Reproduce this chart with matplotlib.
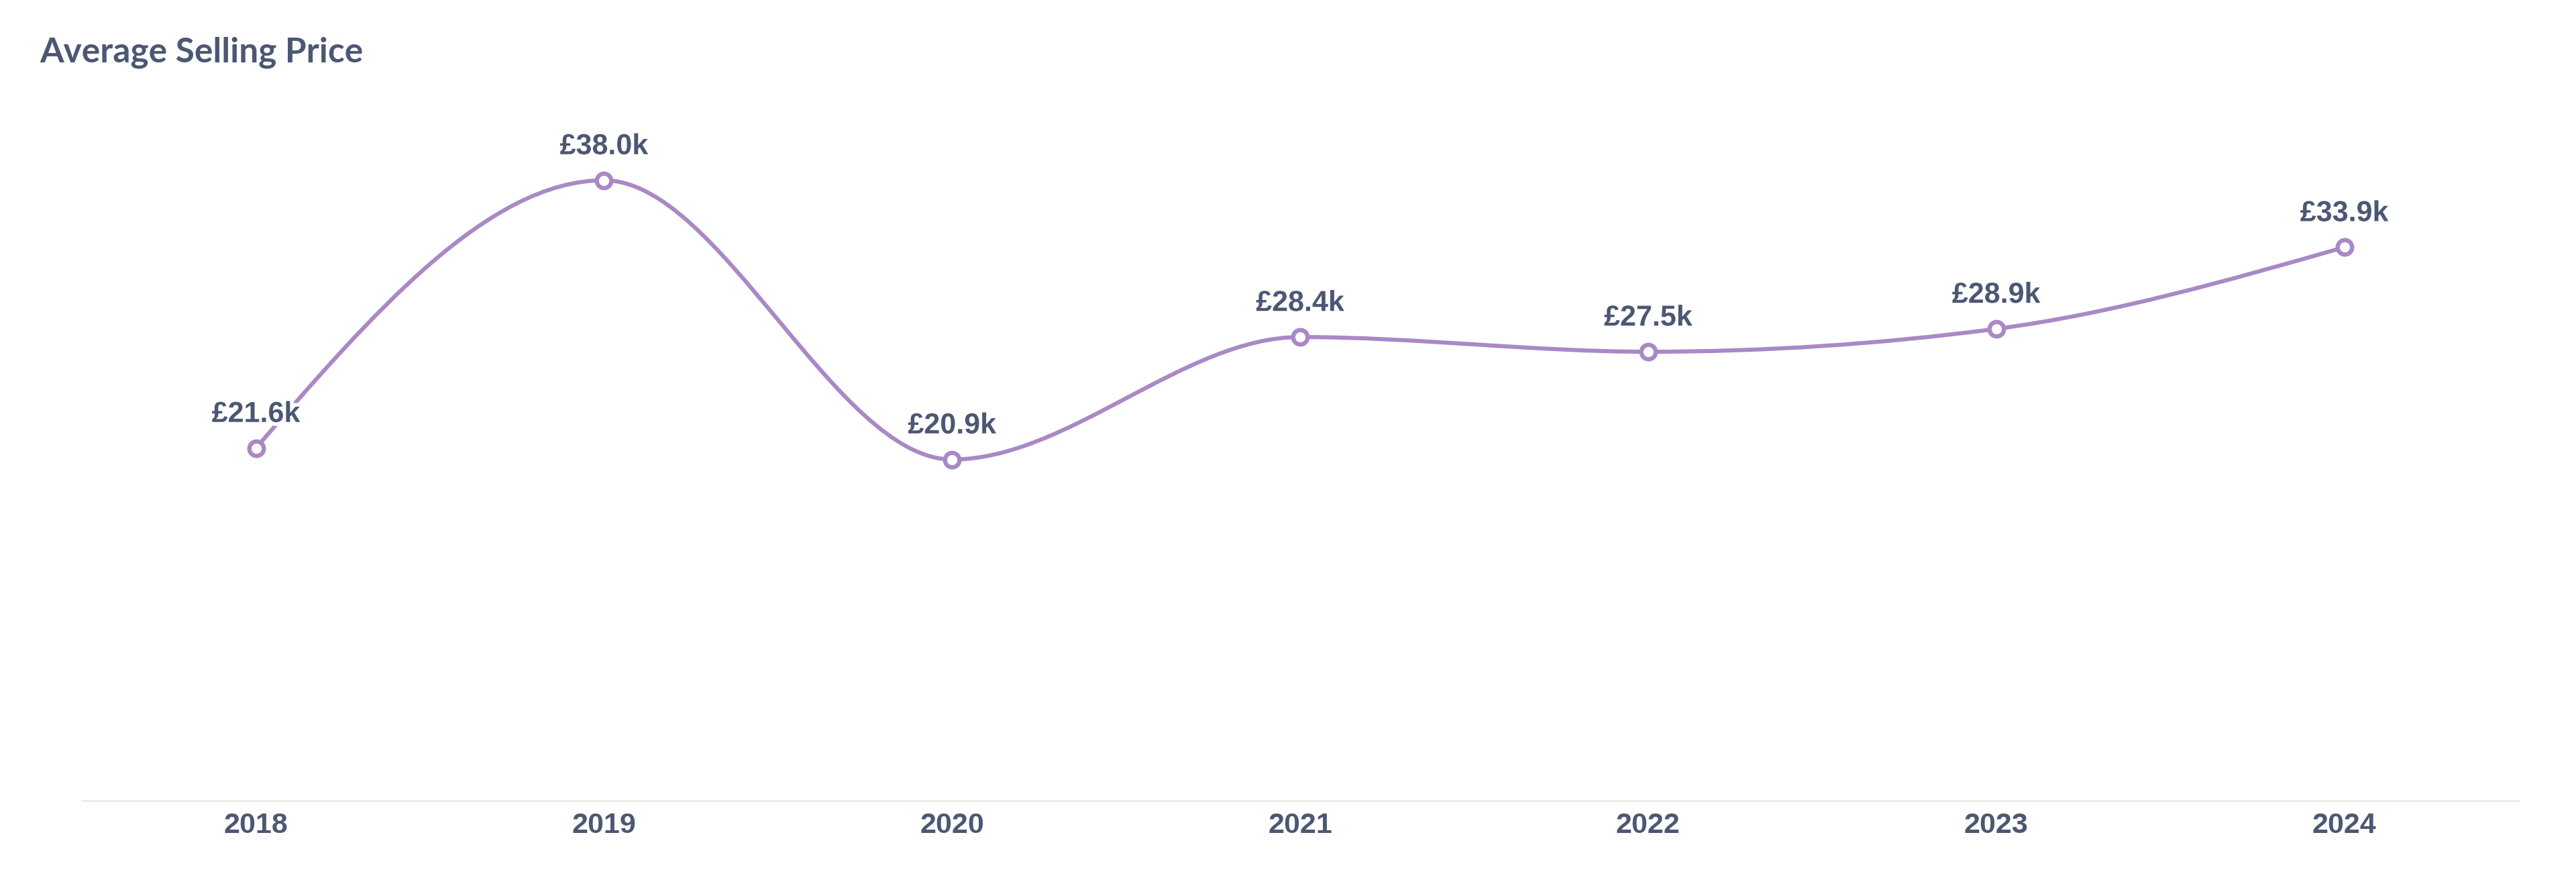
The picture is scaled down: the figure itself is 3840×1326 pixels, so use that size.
import numpy as np
import matplotlib
matplotlib.use("Agg")
import matplotlib.pyplot as plt
import matplotlib.patheffects as pe
from matplotlib.path import Path
from matplotlib.patches import PathPatch

# data
years = ["2018", "2019", "2020", "2021", "2022", "2023", "2024"]
avg_price_k = [21.6, 38.0, 20.9, 28.4, 27.5, 28.9, 33.9]
point_labels = ["£21.6k", "£38.0k", "£20.9k", "£28.4k", "£27.5k", "£28.9k", "£33.9k"]

TEXT = "#4C5773"
LINE = "#A989C5"
AXIS = "#EDEDED"


def monotone_path(x, y):
    # cubic bezier segments like d3.curveMonotoneX
    x = np.asarray(x, float)
    y = np.asarray(y, float)
    n = len(x)
    h = np.diff(x)
    s = np.diff(y) / h
    t = np.zeros(n)
    for i in range(1, n - 1):
        p = (s[i - 1] * h[i] + s[i] * h[i - 1]) / (h[i - 1] + h[i])
        t[i] = (np.sign(s[i - 1]) + np.sign(s[i])) * min(abs(s[i - 1]), abs(s[i]), 0.5 * abs(p))
    t[0] = (3 * s[0] - t[1]) / 2
    t[-1] = (3 * s[-1] - t[-2]) / 2
    verts = [(x[0], y[0])]
    codes = [Path.MOVETO]
    for i in range(n - 1):
        dx = h[i] / 3
        verts += [(x[i] + dx, y[i] + dx * t[i]),
                  (x[i + 1] - dx, y[i + 1] - dx * t[i + 1]),
                  (x[i + 1], y[i + 1])]
        codes += [Path.CURVE4] * 3
    return Path(verts, codes)


fig = plt.figure(figsize=(38.4, 13.26), dpi=100)
ax = fig.add_axes([0.0318, 0.1003, 0.9458, 0.7338])

xs = np.arange(len(years))
ax.add_patch(PathPatch(monotone_path(xs, avg_price_k), facecolor="none",
                       edgecolor=LINE, lw=4.4, capstyle="round", zorder=2))
ax.plot(xs, avg_price_k, linestyle="none", marker="o", markersize=15.5,
        markerfacecolor="white", markeredgecolor=LINE, markeredgewidth=4.6, zorder=3)

for xi, yi, lab in zip(xs, avg_price_k, point_labels):
    ax.annotate(lab, (xi, yi), xytext=(0, 28), textcoords="offset points",
                ha="center", va="baseline", fontsize=31, fontweight="bold",
                family="Liberation Sans", color=TEXT, zorder=4,
                path_effects=[pe.withStroke(linewidth=8, foreground="white")])

ax.set_xlim(-0.5, len(years) - 0.5)
ax.set_ylim(0, 40)
ax.set_xticks(xs)
ax.set_xticklabels(years, fontsize=31, fontweight="bold", family="Liberation Sans", color=TEXT)
ax.tick_params(axis="x", length=0, pad=12)
ax.set_yticks([])
for side in ["top", "right", "left"]:
    ax.spines[side].set_visible(False)
ax.spines["bottom"].set_color(AXIS)
ax.spines["bottom"].set_linewidth(2.2)

fig.text(0.0154, 0.9306, "Average Selling Price", fontsize=37, fontweight="bold",
         family="Lato", color=TEXT, ha="left", va="baseline")

fig.savefig("out.png", dpi=100, facecolor="white")
